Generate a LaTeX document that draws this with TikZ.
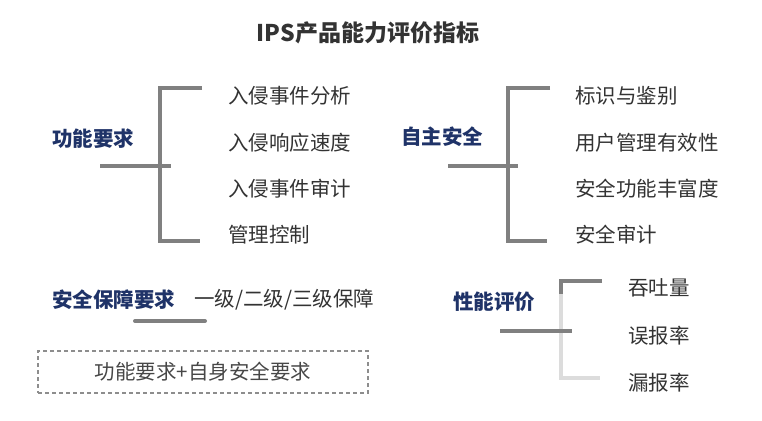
\documentclass[tikz,border=0pt]{standalone}
\usepackage{fontspec}
\setmainfont{Noto Sans CJK SC}
\usepackage{xcolor}
\usetikzlibrary{positioning}
\definecolor{navy}{HTML}{1F3368}
\definecolor{ink}{HTML}{333333}
\definecolor{bargray}{HTML}{808080}
\definecolor{fadegray}{HTML}{DCDCDC}

\begin{document}
\begin{tikzpicture}[x=1pt, y=-1pt,
		title/.style={font=\fontsize{23}{26}\selectfont\bfseries, text=ink, inner sep=0pt},
		head/.style={font=\fontsize{20.5}{23}\selectfont\bfseries, text=navy, anchor=west, inner sep=0pt},
		item/.style={font=\fontsize{20.5}{23}\selectfont, text=ink, anchor=west, inner sep=0pt},
		bar/.style={line width=4pt, draw=bargray},
		fadebar/.style={line width=4pt, draw=fadegray},
		note/.style={draw=bargray!90, dash pattern=on 4pt off 3pt, line width=1.1pt, minimum width=330pt, minimum height=42pt,
			font=\fontsize{20.5}{23}\selectfont, text=ink!90}
		]
		\useasboundingbox (0,0) rectangle (762,420);
		\node[title] (ttl) at (368,33) {IPS产品能力评价指标};
		% functional requirements
		\node[head] (func) at (52,139) {功能要求};
		\foreach \t [count=\i] in {入侵事件分析,入侵响应速度,入侵事件审计,管理控制}
		\node[item] (f\i) at (228,{96+46.3*(\i-1)}) {\t};
		\coordinate (ftop) at (202,88);
		\coordinate (fbot) at (200,241);
		\coordinate (fspine) at (160,166);
		\coordinate (fstem) at (100,166);
		\coordinate (fjoin) at (171,166);
		\draw[bar] (ftop) -- (ftop -| fspine) -- (fbot -| fspine) -- (fbot);
		\draw[bar] (fstem) -- (fjoin);
		% self security
		\node[head] (self) at (401,137) {自主安全};
		\foreach \t [count=\i] in {标识与鉴别,用户管理有效性,安全功能丰富度,安全审计}
		\node[item] (s\i) at (575,{96+46.3*(\i-1)}) {\t};
		\coordinate (stop) at (550,88);
		\coordinate (sbot) at (547,241);
		\coordinate (sspine) at (508,166);
		\coordinate (sstem) at (448,166);
		\coordinate (sjoin) at (518,166);
		\draw[bar] (stop) -- (stop -| sspine) -- (sbot -| sspine) -- (sbot);
		\draw[bar] (sstem) -- (sjoin);
		% assurance
		\node[head] (assur) at (52,300) {安全保障要求};
		\node[item] (lvl) at (194,300) {一级/二级/三级保障};
		\coordinate (ulA) at (135,321);
		\coordinate (ulB) at (205,321);
		\draw[bar, line cap=round] (ulA) -- (ulB);
		\node[note] (sum) at (203,372) {功能要求+自身安全要求};
		% performance
		\node[head] (perf) at (453,302) {性能评价};
		\node[item] (p1) at (628,288) {吞吐量};
		\node[item] (p2) at (628,336) {误报率};
		\node[item] (p3) at (628,383) {漏报率};
		\coordinate (ptop) at (602,281);
		\coordinate (pmid) at (561,294);
		\coordinate (pbot) at (600,378);
		\coordinate (pstem) at (500,331);
		\coordinate (pjoin) at (572,331);
		\draw[fadebar] (pmid) -- (pbot -| pmid) -- (pbot);
		\draw[bar] (ptop) -- (ptop -| pmid) -- (pmid);
		\draw[bar] (pstem) -- (pjoin);
	\end{tikzpicture}
\end{document}
